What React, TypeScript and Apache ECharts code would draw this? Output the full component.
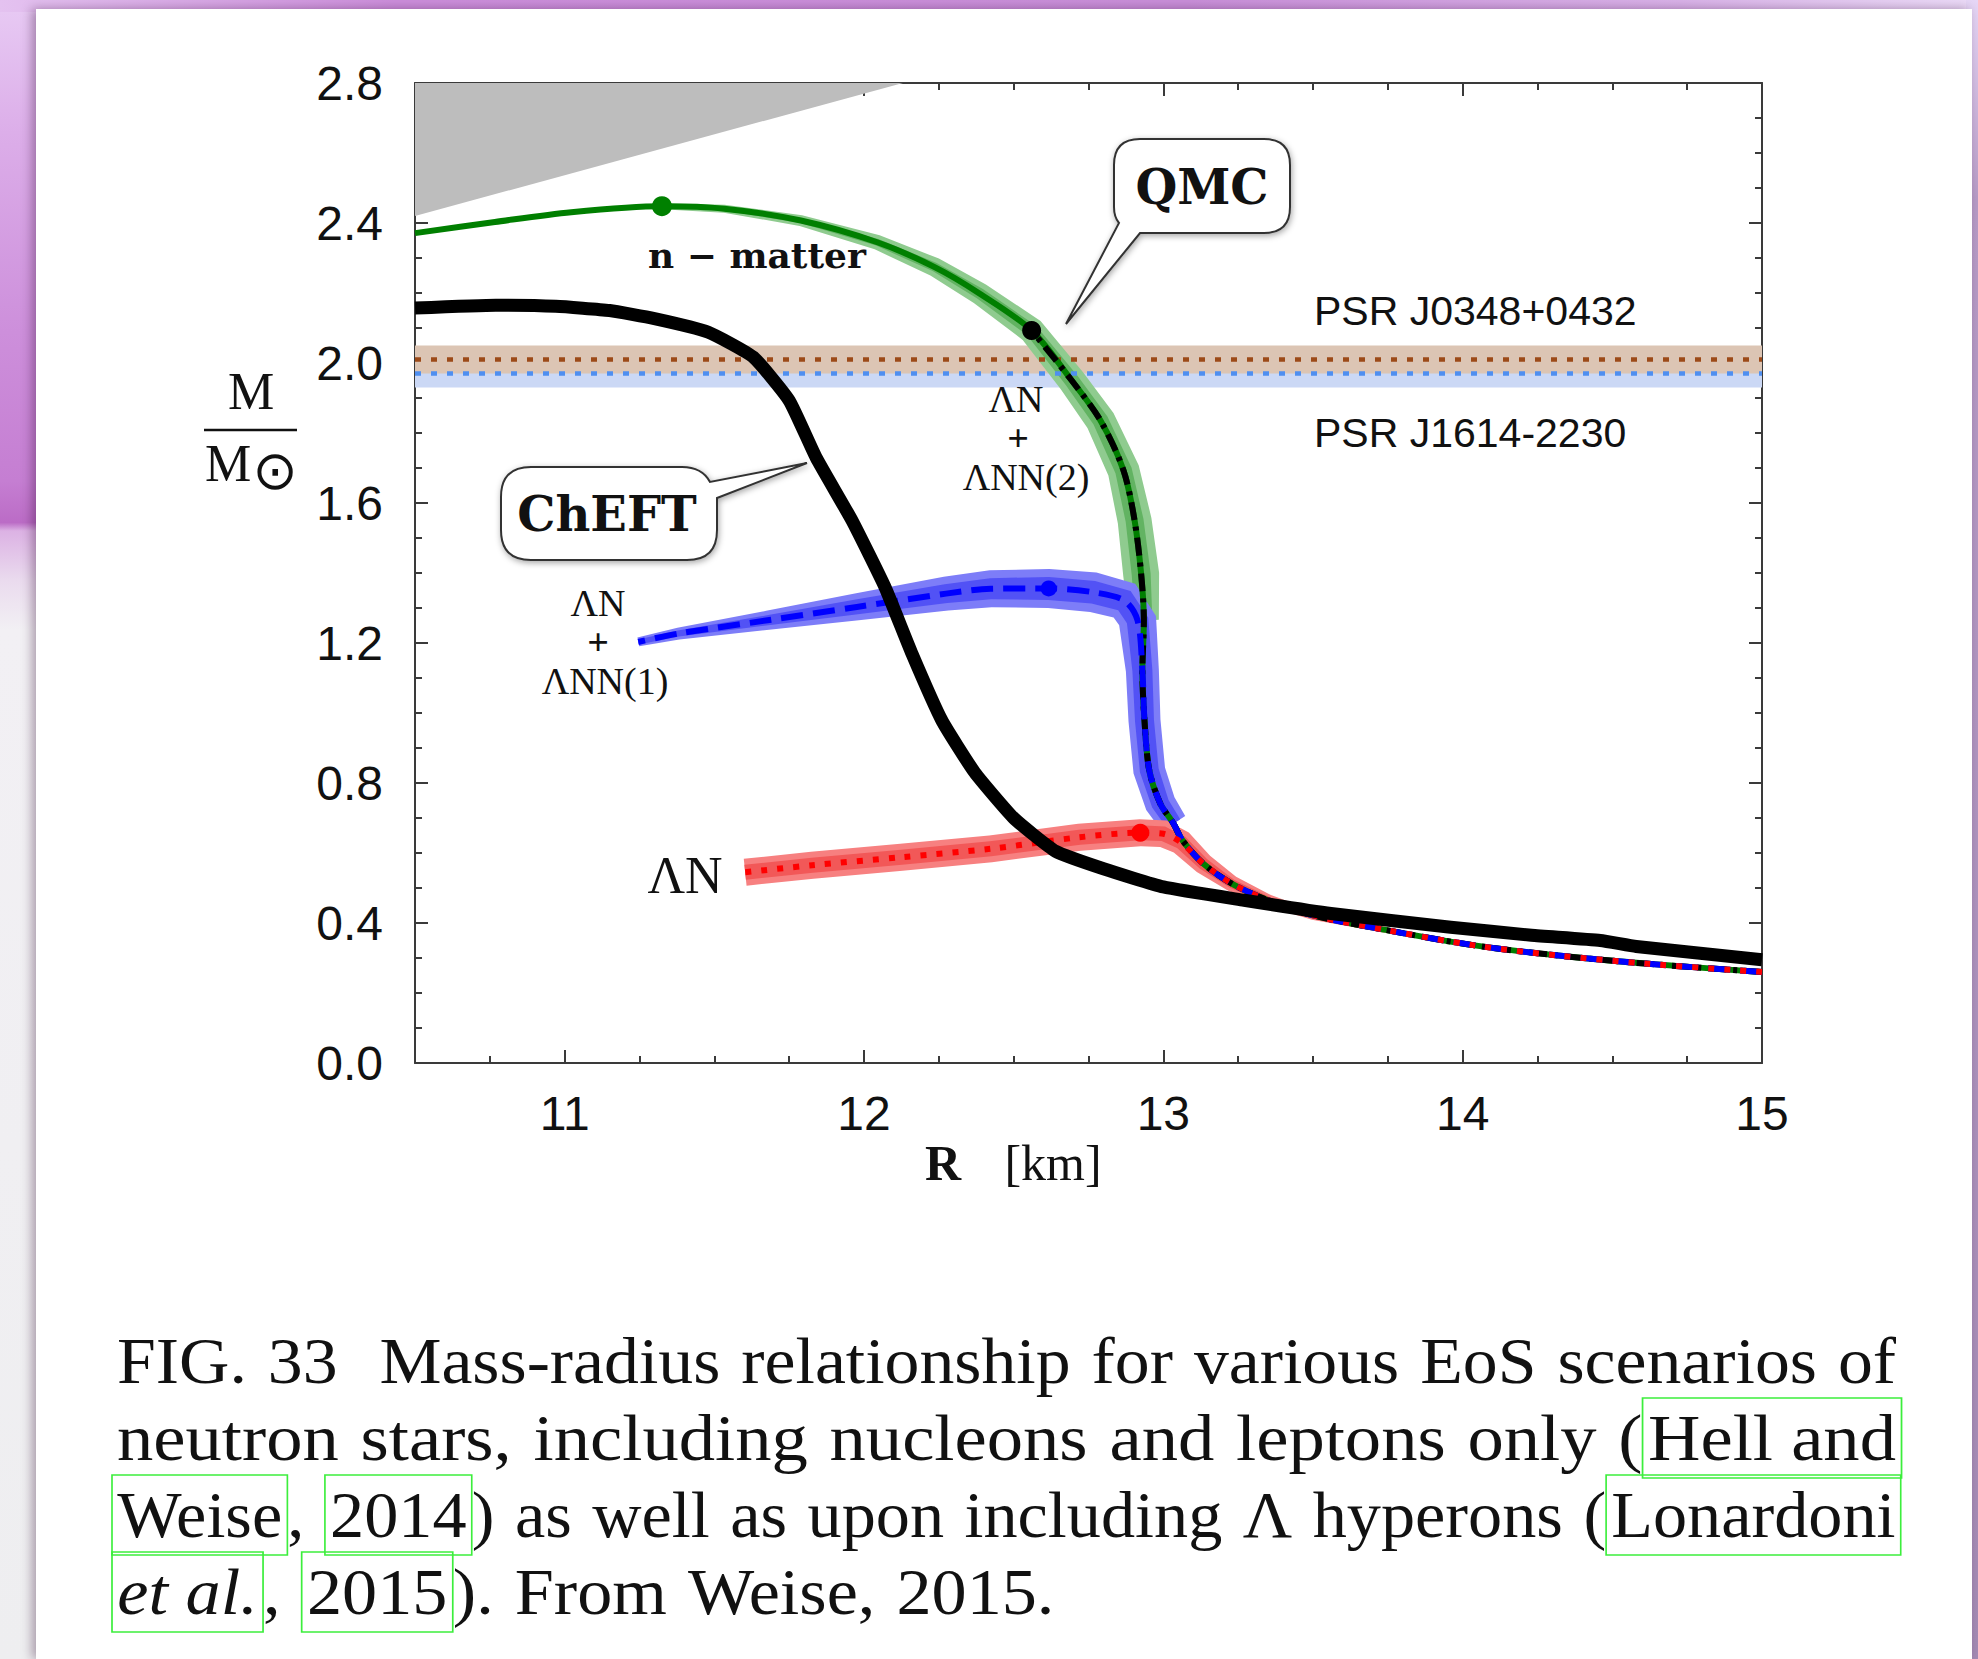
import React, { useEffect, useRef } from "react";
import * as echarts from "echarts";

// ---------------- data ----------------
const R_MIN = 10.5;
const R_MAX = 15;
const M_MIN = 0;
const M_MAX = 2.8;
const X_MAJOR_TICKS = [11, 12, 13, 14, 15];
const X_MINOR_STEP = 0.25;
const Y_MAJOR_STEP = 0.4;

// grey excluded region (lower edge)
const excludedR = [10.5, 12.13];
const excludedM = [2.42, 2.8];

// pulsar masses
const psrNames = ["PSR J1614-2230", "PSR J0348+0432"];
const psrMass = [1.97, 2.01];
const psrErr = [0.04, 0.04];

// ChEFT (nucleons and leptons)
const chEftR = [10.5, 10.77, 10.97, 11.15, 11.3, 11.48, 11.63, 11.75, 11.84, 11.96, 12.07, 12.16, 12.26, 12.37, 12.5, 12.64, 12.8, 13.0, 13.27, 13.56, 13.96, 14.23, 14.46, 14.58, 15.0];
const chEftM = [2.157, 2.165, 2.162, 2.15, 2.127, 2.088, 2.017, 1.893, 1.73, 1.55, 1.36, 1.17, 0.979, 0.83, 0.7, 0.605, 0.555, 0.503, 0.465, 0.427, 0.388, 0.365, 0.35, 0.333, 0.295];

// QMC pure neutron matter
const nMatterR = [15.0, 14.61, 14.32, 14.04, 13.75, 13.5, 13.35, 13.23, 13.134, 13.064, 13.034, 12.99, 12.953, 12.937, 12.93, 12.935, 12.926, 12.904, 12.867, 12.79, 12.694, 12.56, 12.387, 12.236, 12.044, 11.789, 11.533, 11.325, 11.022, 10.767, 10.5];
const nMatterM = [0.26, 0.284, 0.307, 0.336, 0.379, 0.422, 0.465, 0.512, 0.569, 0.636, 0.684, 0.741, 0.836, 0.979, 1.121, 1.264, 1.396, 1.55, 1.693, 1.836, 1.95, 2.093, 2.198, 2.274, 2.345, 2.407, 2.441, 2.448, 2.431, 2.403, 2.371];

// QMC ΛN + ΛNN(2)
const lnn2R = [15.0, 14.61, 14.32, 14.04, 13.75, 13.5, 13.35, 13.23, 13.134, 13.064, 13.034, 12.99, 12.953, 12.937, 12.93, 12.935, 12.926, 12.904, 12.867, 12.79, 12.694, 12.56];
const lnn2M = [0.26, 0.284, 0.307, 0.336, 0.379, 0.422, 0.465, 0.512, 0.569, 0.636, 0.684, 0.741, 0.836, 0.979, 1.121, 1.264, 1.396, 1.55, 1.693, 1.836, 1.95, 2.093];

// QMC ΛN + ΛNN(1)
const lnn1R = [15.0, 14.61, 14.32, 14.04, 13.75, 13.5, 13.35, 13.23, 13.134, 13.064, 13.034, 12.99, 12.953, 12.937, 12.93, 12.914, 12.87, 12.766, 12.617, 12.423, 12.274, 11.976, 11.678, 11.38, 11.246];
const lnn1M = [0.26, 0.284, 0.307, 0.336, 0.379, 0.422, 0.465, 0.512, 0.569, 0.636, 0.684, 0.741, 0.836, 0.979, 1.121, 1.264, 1.321, 1.345, 1.356, 1.355, 1.341, 1.303, 1.265, 1.227, 1.203];

// QMC ΛN only
const lnR = [15.0, 14.61, 14.32, 14.04, 13.75, 13.5, 13.35, 13.23, 13.134, 13.06, 13.0, 12.923, 12.72, 12.423, 12.125, 11.827, 11.603];
const lnM = [0.26, 0.284, 0.307, 0.336, 0.379, 0.422, 0.465, 0.512, 0.569, 0.63, 0.655, 0.658, 0.645, 0.612, 0.588, 0.565, 0.545];

// maximum-mass points: n-matter, ΛNN(2), ΛNN(1), ΛN
const maxR = [11.325, 12.56, 12.617, 12.923];
const maxM = [2.448, 2.093, 1.356, 0.658];

// caption (segments: n = normal, l = link box, li = italic link box)
const captionSegments: [string, string][][] = [
  [["FIG. 33  Mass-radius relationship for various EoS scenarios of", "n"]],
  [["neutron stars, including nucleons and leptons only (", "n"], ["Hell and", "l"]],
  [["Weise", "l"], [", ", "n"], ["2014", "l"], [") as well as upon including Λ hyperons (", "n"], ["Lonardoni", "l"]],
  [["et al.", "li"], [", ", "n"], ["2015", "l"], ["). From Weise, 2015.", "n"]],
];

// ---------------- band styling (pixel widths along each band) ----------------
// green: n-matter points from R=12.935 to R=11.325
const greenBandOuter = [30, 36, 34, 32, 30, 28, 26, 22, 19, 15, 11, 8, 6];
const greenBandInner = [17, 19, 18, 17, 16, 15, 13, 11, 9, 7, 5, 4, 3];
// blue: ΛNN(1) points from R=13.034 to R=11.246
const blueBandOuter = [28, 31, 32, 32, 33, 38, 40, 40, 39, 37, 34, 27, 19, 12, 9];
const blueBandInner = [16, 18, 19, 19, 20, 22, 23, 23, 23, 21, 19, 15, 10, 6, 5];
// red: ΛN points from R=13.75 to R=11.603
const redBandOuter = [6, 9, 12, 16, 21, 25, 27, 27, 27, 27, 27, 27, 27];
const redBandInner = [3, 5, 7, 9, 12, 14, 15, 15, 15, 15, 15, 15, 15];

// ---------------- shapes for callouts ----------------
const QMC_PATH =
  "M1140 139 L1264 139 Q1290 139 1290 165 L1290 207 Q1290 233 1264 233 L1140 233 L1066 324 L1119 223 Q1114 217 1114 207 L1114 165 Q1114 139 1140 139 Z";
const CHEFT_PATH =
  "M531 467 L682 467 Q702 467 710 482 L807 463 L717 498 L717 530 Q717 560 687 560 L531 560 Q501 560 501 530 L501 497 Q501 467 531 467 Z";
echarts.graphic.registerShape("qmcBubble", echarts.graphic.extendPath(QMC_PATH, {}));
echarts.graphic.registerShape("cheftBubble", echarts.graphic.extendPath(CHEFT_PATH, {}));

const SERIF = "Liberation Serif";
const SERIF_BOLD = "DejaVu Serif";
const SANS = "Liberation Sans";

const pts = (R: number[], M: number[]) => R.map((r, i) => [r, M[i]]);

function lineS(name: string, data: number[][], color: string, width: number, opts: any = {}) {
  return {
    type: "line",
    name,
    data,
    symbol: "none",
    showSymbol: false,
    silent: true,
    smooth: opts.smooth ?? 0.3,
    z: opts.z ?? 2,
    lineStyle: { color, width, type: opts.dash ?? "solid", cap: "butt", join: "round", opacity: 1 },
  };
}

// variable-width band drawn around a curve (from point rA to point rB)
function bandS(name: string, R: number[], M: number[], rA: number, rB: number, widths: number[], color: string) {
  const a = R.indexOf(rA);
  const b = R.indexOf(rB);
  const lo = Math.min(a, b);
  const hi = Math.max(a, b);
  const bR = R.slice(lo, hi + 1);
  const bM = M.slice(lo, hi + 1);
  return {
    type: "custom",
    name,
    silent: true,
    clip: true,
    data: [[bR[0], bM[0]]],
    encode: { x: 0, y: 1 },
    renderItem: (_params: any, api: any) => {
      const p = bR.map((r, i) => api.coord([r, bM[i]]));
      const n = p.length;
      const left: number[][] = [];
      const right: number[][] = [];
      for (let i = 0; i < n; i++) {
        const a0 = p[Math.max(0, i - 1)];
        const a1 = p[Math.min(n - 1, i + 1)];
        let tx = a1[0] - a0[0];
        let ty = a1[1] - a0[1];
        const L = Math.hypot(tx, ty) || 1;
        tx /= L;
        ty /= L;
        const h = (widths[i] ?? widths[widths.length - 1]) / 2;
        left.push([p[i][0] - ty * h, p[i][1] + tx * h]);
        right.push([p[i][0] + ty * h, p[i][1] - tx * h]);
      }
      return {
        type: "polygon",
        shape: { points: left.concat(right.reverse()) },
        style: { fill: color, stroke: null },
      };
    },
  };
}

function T(text: string, x: number, y: number, size: number, family: string, opts: any = {}) {
  const align = opts.align ?? "center";
  const va = opts.va ?? "middle";
  return {
    type: "text",
    x,
    y,
    z: 60,
    silent: true,
    style: {
      text,
      fontSize: size,
      fontFamily: family,
      fontWeight: opts.weight ?? "normal",
      fill: opts.fill ?? "#111",
      align,
      verticalAlign: va,
      textAlign: align,
      textVerticalAlign: va,
    },
  };
}

function buildCaption() {
  const canvas = document.createElement("canvas");
  const ctx = canvas.getContext("2d") as CanvasRenderingContext2D;
  const left = 117;
  const right = 1896;
  const pad = 5;
  const baselines = [1384, 1461, 1538, 1615];
  const size = 66;
  const measure = (t: string, italic: boolean) => {
    ctx.font = `${italic ? "italic " : ""}${size}px "${SERIF}"`;
    return ctx.measureText(t).width;
  };
  const gapNat = size * 0.3;
  const lines = captionSegments.map((segs) => {
    const tokens: { t: string; s: string }[] = [];
    segs.forEach(([text, s]) => {
      if (s === "n") {
        text.split(" ").forEach((w, j) => {
          if (j > 0) tokens.push({ t: " ", s: "g" });
          if (w) tokens.push({ t: w, s: "n" });
        });
      } else tokens.push({ t: text, s });
    });
    let fixed = 0;
    let gaps = 0;
    tokens.forEach((tk) => {
      if (tk.s === "g") gaps++;
      else fixed += measure(tk.t, tk.s === "li") + (tk.s[0] === "l" ? 2 * pad : 0);
    });
    const x0 = left - (tokens[0].s[0] === "l" ? pad : 0);
    const x1 = right + (tokens[tokens.length - 1].s[0] === "l" ? pad : 0);
    return { tokens, fixed, gaps, x0, target: x1 - x0 };
  });
  const justified = lines.slice(0, 3).map((l) => {
    const nat = l.fixed + l.gaps * gapNat;
    const sx = Math.min(1.12, Math.max(0.95, l.target / nat));
    const gap = (l.target / sx - l.fixed) / Math.max(1, l.gaps);
    return { sx, gap };
  });
  const avgSx = justified.reduce((s, j) => s + j.sx, 0) / justified.length;
  const base = { fontSize: size, fontFamily: SERIF, fill: "#111", color: "#111", lineHeight: 80 };
  const linkBox = { borderColor: "#3cee3c", borderWidth: 1.6, padding: [0, pad, 0, pad], height: 80 };
  return lines.map((l, i) => {
    const sx = i < 3 ? justified[i].sx : avgSx;
    const gap = i < 3 ? justified[i].gap : gapNat;
    return {
      type: "text",
      x: l.x0,
      y: baselines[i] - 63,
      scaleX: sx,
      z: 60,
      silent: true,
      style: {
        text: l.tokens.map((tk) => `{${tk.s}|${tk.t}}`).join(""),
        fontSize: size,
        fontFamily: SERIF,
        fill: "#111",
        lineHeight: 80,
        align: "left",
        verticalAlign: "top",
        textAlign: "left",
        textVerticalAlign: "top",
        rich: {
          n: { ...base },
          g: { ...base, width: gap },
          l: { ...base, ...linkBox },
          li: { ...base, ...linkBox, fontStyle: "italic" },
        },
      },
    };
  });
}

function buildOption() {
  const AX = "#3a3a3a";
  const tickLine = { color: AX, width: 2 };
  const xBase = {
    type: "value",
    min: R_MIN,
    max: R_MAX,
    splitLine: { show: false },
    minorSplitLine: { show: false },
  };
  const xAxis = [
    {
      ...xBase,
      position: "bottom",
      interval: X_MINOR_STEP,
      axisLine: { show: true, onZero: false, lineStyle: tickLine },
      axisTick: { show: true, inside: true, length: 7, lineStyle: tickLine },
      axisLabel: {
        show: true,
        margin: 26,
        fontSize: 48,
        fontFamily: SANS,
        color: "#111",
        formatter: (v: number) => (Math.abs(v - Math.round(v)) < 1e-6 ? String(Math.round(v)) : ""),
      },
    },
    {
      ...xBase,
      position: "bottom",
      axisLine: { show: false, onZero: false },
      axisTick: { show: true, inside: true, length: 13, customValues: X_MAJOR_TICKS, lineStyle: tickLine },
      axisLabel: { show: false },
    },
    {
      ...xBase,
      position: "top",
      interval: X_MINOR_STEP,
      axisLine: { show: true, onZero: false, lineStyle: tickLine },
      axisTick: { show: true, inside: true, length: 7, lineStyle: tickLine },
      axisLabel: { show: false },
    },
    {
      ...xBase,
      position: "top",
      axisLine: { show: false, onZero: false },
      axisTick: { show: true, inside: true, length: 13, customValues: X_MAJOR_TICKS, lineStyle: tickLine },
      axisLabel: { show: false },
    },
  ];
  const yBase = {
    type: "value",
    min: M_MIN,
    max: M_MAX,
    interval: Y_MAJOR_STEP,
    splitLine: { show: false },
    minorSplitLine: { show: false },
    axisLine: { show: true, onZero: false, lineStyle: tickLine },
    axisTick: { show: true, inside: true, length: 13, lineStyle: tickLine },
    minorTick: { show: true, splitNumber: 4, length: 7, lineStyle: tickLine },
  };
  const yAxis = [
    {
      ...yBase,
      position: "left",
      axisLabel: {
        margin: 32,
        fontSize: 48,
        fontFamily: SANS,
        color: "#111",
        formatter: (v: number) => v.toFixed(1),
      },
    },
    { ...yBase, position: "right", axisLabel: { show: false } },
  ];

  const psrBandColors = ["#cbd8f5", "#dcc5b4"];
  const psrDotColors = ["#4f8ff0", "#9c4a18"];

  const series: any[] = [
    {
      type: "line",
      name: "excluded",
      data: pts(excludedR, excludedM),
      symbol: "none",
      silent: true,
      lineStyle: { width: 0 },
      areaStyle: { color: "#bdbdbd", opacity: 1, origin: "end" },
      z: 1,
    },
    ...psrNames.map((n, i) => ({
      type: "line",
      name: n + " band",
      data: [
        [R_MIN, psrMass[i]],
        [R_MAX, psrMass[i]],
      ],
      symbol: "none",
      silent: true,
      lineStyle: { width: 0, opacity: 0 },
      z: 1,
      markArea: {
        silent: true,
        itemStyle: { color: psrBandColors[i], opacity: 1 },
        data: [[{ yAxis: psrMass[i] - psrErr[i] }, { yAxis: psrMass[i] + psrErr[i] }]],
      },
    })),
    ...psrNames.map((n, i) =>
      lineS(
        n,
        [
          [R_MIN, psrMass[i]],
          [R_MAX, psrMass[i]],
        ],
        psrDotColors[i],
        4.5,
        { dash: [6, 10], smooth: false }
      )
    ),
    bandS("n-matter band", nMatterR, nMatterM, 12.935, 11.325, greenBandOuter, "#8fcb8f"),
    bandS("n-matter band core", nMatterR, nMatterM, 12.935, 11.325, greenBandInner, "#62b362"),
    lineS("n - matter", pts(nMatterR, nMatterM), "#007f00", 6),
    lineS("ΛN + ΛNN(2)", pts(lnn2R, lnn2M), "#000000", 6, { dash: [18, 7, 4, 7] }),
    bandS("ΛNN(1) band", lnn1R, lnn1M, 13.034, 11.246, blueBandOuter, "#7d7df8"),
    bandS("ΛNN(1) band core", lnn1R, lnn1M, 13.034, 11.246, blueBandInner, "#5252f5"),
    lineS("ΛN + ΛNN(1)", pts(lnn1R, lnn1M), "#0000ff", 6, { dash: [22, 10] }),
    bandS("ΛN band", lnR, lnM, 13.75, 11.603, redBandOuter, "#f78080"),
    bandS("ΛN band core", lnR, lnM, 13.75, 11.603, redBandInner, "#f25858"),
    lineS("ΛN", pts(lnR, lnM), "#ff0000", 6, { dash: [6, 10] }),
    lineS("ChEFT", pts(chEftR, chEftM), "#000000", 13, { smooth: 0.15 }),
    ...maxR.map((r, i) => ({
      type: "scatter",
      name: "max " + i,
      data: [[r, maxM[i]]],
      symbolSize: [20, 19, 16, 18][i],
      itemStyle: { color: ["#008000", "#000000", "#0000ff", "#ff0000"][i], opacity: 1 },
      silent: true,
      z: 10,
    })),
  ];

  const bubbleStyle = {
    fill: "#ffffff",
    stroke: "#333333",
    lineWidth: 2,
    shadowBlur: 6,
    shadowColor: "rgba(0,0,0,0.35)",
    shadowOffsetX: 1,
    shadowOffsetY: 2,
  };

  const graphics: any[] = [
    // y axis name
    T("M", 251, 391, 52, SERIF),
    { type: "line", z: 60, silent: true, shape: { x1: 204, y1: 430, x2: 297, y2: 430 }, style: { stroke: "#111", lineWidth: 2.5 } },
    T("M", 228, 463, 52, SERIF),
    T("⊙", 275, 470, 54, "DejaVu Sans"),
    // x axis name
    T("R", 943, 1163, 50, SERIF, { weight: "bold" }),
    T("[km]", 1053, 1163, 50, SERIF),
    // pulsar labels
    T(psrNames[1], 1314, 311, 41, SANS, { align: "left" }),
    T(psrNames[0], 1314, 433, 41, SANS, { align: "left" }),
    // curve labels
    T("n − matter", 757, 255, 36, SERIF_BOLD, { weight: "bold" }),
    { type: "qmcBubble", z: 55, silent: true, style: bubbleStyle },
    T("QMC", 1202, 187, 48, SERIF_BOLD, { weight: "bold" }),
    { type: "cheftBubble", z: 55, silent: true, style: bubbleStyle },
    T("ChEFT", 607, 514, 48, SERIF_BOLD, { weight: "bold" }),
    T("ΛN", 598, 603, 38, SERIF),
    T("+", 598, 642, 38, SERIF, { weight: "bold" }),
    T("ΛNN(1)", 605, 681, 38, SERIF),
    T("ΛN", 1016, 399, 38, SERIF),
    T("+", 1018, 438, 38, SERIF, { weight: "bold" }),
    T("ΛNN(2)", 1026, 477, 38, SERIF),
    T("ΛN", 685, 875, 52, SERIF),
    ...buildCaption(),
  ];

  return {
    animation: false,
    backgroundColor: "transparent",
    grid: { left: 415, top: 83, width: 1347, height: 980, containLabel: false },
    xAxis,
    yAxis,
    series,
    graphic: { elements: graphics },
  };
}

export default function App() {
  const ref = useRef<HTMLDivElement>(null);
  useEffect(() => {
    if (!ref.current) return;
    const chart = echarts.init(ref.current, null, { renderer: "svg" });
    chart.setOption(buildOption() as any);
    return () => chart.dispose();
  }, []);
  return (
    <div
      style={{
        position: "fixed",
        left: 0,
        top: 0,
        width: 1978,
        height: 1659,
        overflow: "hidden",
        background: "#f1f1f3",
      }}
    >
      <div
        style={{
          position: "absolute",
          left: 0,
          top: 0,
          width: 40,
          height: 1659,
          background:
            "linear-gradient(180deg, #e8cbf4 0%, #dcaee9 8%, #cd8fdb 20%, #c57ed2 29%, #bb6cc6 31.5%, #dcb2e4 32%, #eadbee 35%, #f2f0f4 38%, #eeeef0 100%)",
        }}
      />
      <div
        style={{
          position: "absolute",
          left: 0,
          top: 0,
          width: 1978,
          height: 12,
          background: "linear-gradient(90deg, #e4c2f0 0%, #cc8edb 20%, #c98fd9 60%, #d9b2e8 85%, #ecdcf8 100%)",
        }}
      />
      <div
        style={{
          position: "absolute",
          left: 1966,
          top: 0,
          width: 12,
          height: 1659,
          background: "linear-gradient(180deg, #e6d6f6 0%, #b79bc6 12%, #a48bb4 100%)",
        }}
      />
      <div
        style={{
          position: "absolute",
          left: 36,
          top: 9,
          width: 1936,
          height: 1650,
          background: "#ffffff",
          boxShadow: "-4px 0 10px rgba(40,0,40,0.35)",
        }}
      />
      <div ref={ref} style={{ position: "absolute", left: 0, top: 0, width: 1978, height: 1659 }} />
    </div>
  );
}
